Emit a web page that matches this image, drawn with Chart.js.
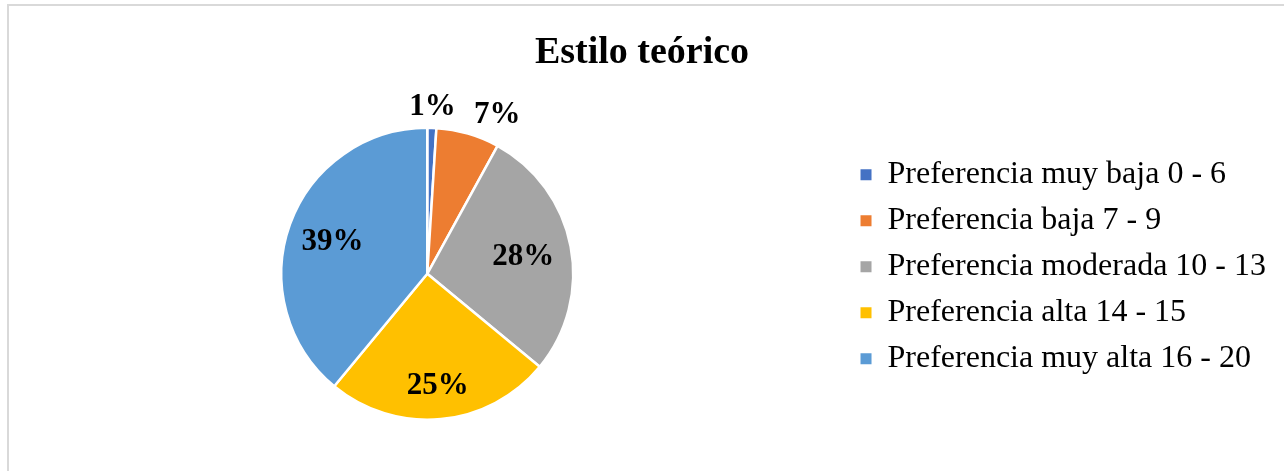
<!DOCTYPE html>
<html>
<head>
<meta charset="utf-8">
<script src="https://cdn.jsdelivr.net/npm/chart.js@4.4.1/dist/chart.umd.min.js"></script>
<style>
  html, body { margin: 0; padding: 0; background: #fff; }
  #wrap { position: relative; width: 1284px; height: 471px; }
  #frame { position: absolute; left: 7px; top: 4px; right: -5px; bottom: -5px;
           border-left: 2px solid #d9d9d9; border-top: 2px solid #d9d9d9; }
  canvas { position: absolute; left: 0; top: 0; }
</style>
</head>
<body>
<div id="wrap">
  <div id="frame"></div>
  <canvas id="chart" width="1284" height="471"></canvas>
</div>
<script>
// datos del gráfico
const categorias = ['Preferencia muy baja 0 - 6', 'Preferencia baja 7 - 9', 'Preferencia moderada 10 - 13', 'Preferencia alta 14 - 15', 'Preferencia muy alta 16 - 20'];
const porcentajes = [1, 7, 28, 25, 39];
const colores = ['#4472C4', '#ED7D31', '#A5A5A5', '#FFC000', '#5B9BD5'];

const serif = '"Liberation Serif", "Times New Roman", serif';

// etiquetas de porcentaje sobre cada sector (distancia relativa al radio)
const distEtiqueta = [1.16, 1.15, 0.67, 0.76, 0.69];
const etiquetasPlugin = {
  id: 'etiquetas',
  afterDatasetsDraw(chart) {
    const ctx = chart.ctx;
    const meta = chart.getDatasetMeta(0);
    ctx.save();
    ctx.font = 'bold 31px ' + serif;
    ctx.fillStyle = '#000';
    ctx.textBaseline = 'middle';
    meta.data.forEach((arc, i) => {
      const mid = (arc.startAngle + arc.endAngle) / 2;
      const r = arc.outerRadius * distEtiqueta[i];
      const x = arc.x + Math.cos(mid) * r;
      const y = arc.y + Math.sin(mid) * r + 2;
      ctx.textAlign = (porcentajes[i] > 3 && porcentajes[i] < 10) ? 'left' : 'center';
      ctx.fillText(porcentajes[i] + '%', x, y);
    });
    ctx.restore();
  }
};

const ctxPie = document.getElementById('chart').getContext('2d');
const chartPie = new Chart(ctxPie, {
  type: 'pie',
  data: {
    labels: categorias,
    datasets: [{
      data: porcentajes,
      backgroundColor: colores,
      borderColor: '#ffffff',
      borderWidth: 2.5
    }]
  },
  options: {
    responsive: false,
    animation: false,
    layout: {
      padding: { top: 10, bottom: 50, left: 8, right: 8 }
    },
    plugins: {
      title: {
        display: true,
        text: 'Estilo teórico',
        color: '#000',
        font: { family: serif, size: 38, weight: 'bold' },
        padding: { top: 20, bottom: 51 }
      },
      legend: {
        position: 'right',
        title: {
          display: true,
          text: ' ',
          font: { size: 2 },
          padding: { top: 100, bottom: 0 }
        },
        labels: {
          color: '#000',
          boxWidth: 11,
          boxHeight: 11,
          padding: 14,
          font: { family: serif, size: 32 },
          generateLabels: (chart) => Chart.overrides.pie.plugins.legend.labels.generateLabels(chart)
            .map(l => Object.assign(l, { lineWidth: 0, strokeStyle: l.fillStyle }))
        }
      },
      tooltip: { enabled: false }
    }
  },
  plugins: [etiquetasPlugin]
});
</script>
</body>
</html>
